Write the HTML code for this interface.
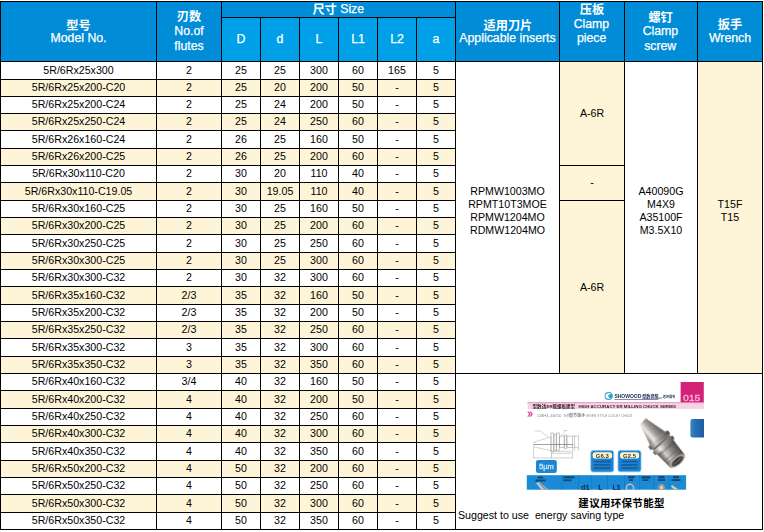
<!DOCTYPE html>
<html><head><meta charset="utf-8"><title>table</title>
<style>
html,body{margin:0;padding:0;background:#fff;}
body{width:764px;height:532px;position:relative;overflow:hidden;font-family:"Liberation Sans","Noto Sans CJK SC",sans-serif;}
svg.bg{position:absolute;left:0;top:0;}
.t{position:absolute;height:20px;line-height:20px;text-align:center;white-space:nowrap;}
</style></head><body>
<svg class="bg" width="764" height="532" viewBox="0 0 764 532" font-family="Liberation Sans, Noto Sans CJK SC, sans-serif">
<rect x="0.00" y="1.00" width="221.00" height="60.00" fill="#008cd6"/>
<rect x="221.00" y="1.00" width="234.00" height="16.00" fill="#008cd6"/>
<rect x="221.00" y="17.00" width="234.00" height="44.00" fill="#00a0e9"/>
<rect x="455.00" y="1.00" width="307.00" height="60.00" fill="#008cd6"/>
<rect x="0.00" y="79.00" width="455.00" height="17.00" fill="#fef4d7"/>
<rect x="0.00" y="113.00" width="455.00" height="17.00" fill="#fef4d7"/>
<rect x="0.00" y="148.00" width="455.00" height="17.00" fill="#fef4d7"/>
<rect x="0.00" y="182.00" width="455.00" height="18.00" fill="#fef4d7"/>
<rect x="0.00" y="217.00" width="455.00" height="17.00" fill="#fef4d7"/>
<rect x="0.00" y="252.00" width="455.00" height="17.00" fill="#fef4d7"/>
<rect x="0.00" y="286.00" width="455.00" height="18.00" fill="#fef4d7"/>
<rect x="0.00" y="321.00" width="455.00" height="17.00" fill="#fef4d7"/>
<rect x="0.00" y="356.00" width="455.00" height="17.00" fill="#fef4d7"/>
<rect x="0.00" y="390.00" width="455.00" height="18.00" fill="#fef4d7"/>
<rect x="0.00" y="425.00" width="455.00" height="17.00" fill="#fef4d7"/>
<rect x="0.00" y="460.00" width="455.00" height="17.00" fill="#fef4d7"/>
<rect x="0.00" y="494.00" width="455.00" height="18.00" fill="#fef4d7"/>
<rect x="559.00" y="61.00" width="65.00" height="312.00" fill="#fef4d7"/>
<rect x="697.00" y="61.00" width="65.00" height="312.00" fill="#fef4d7"/>
<rect x="0.00" y="1.00" width="763.00" height="1.00" fill="#000"/>
<rect x="221.00" y="17.00" width="234.00" height="1.00" fill="#000"/>
<rect x="0.00" y="61.00" width="763.00" height="1.00" fill="#000"/>
<rect x="0.00" y="79.00" width="455.00" height="1.00" fill="#000"/>
<rect x="0.00" y="96.00" width="455.00" height="1.00" fill="#000"/>
<rect x="0.00" y="113.00" width="455.00" height="1.00" fill="#000"/>
<rect x="0.00" y="130.00" width="455.00" height="1.00" fill="#000"/>
<rect x="0.00" y="148.00" width="455.00" height="1.00" fill="#000"/>
<rect x="0.00" y="165.00" width="455.00" height="1.00" fill="#000"/>
<rect x="0.00" y="182.00" width="455.00" height="1.00" fill="#000"/>
<rect x="0.00" y="200.00" width="455.00" height="1.00" fill="#000"/>
<rect x="0.00" y="217.00" width="455.00" height="1.00" fill="#000"/>
<rect x="0.00" y="234.00" width="455.00" height="1.00" fill="#000"/>
<rect x="0.00" y="252.00" width="455.00" height="1.00" fill="#000"/>
<rect x="0.00" y="269.00" width="455.00" height="1.00" fill="#000"/>
<rect x="0.00" y="286.00" width="455.00" height="1.00" fill="#000"/>
<rect x="0.00" y="304.00" width="455.00" height="1.00" fill="#000"/>
<rect x="0.00" y="321.00" width="455.00" height="1.00" fill="#000"/>
<rect x="0.00" y="338.00" width="455.00" height="1.00" fill="#000"/>
<rect x="0.00" y="356.00" width="455.00" height="1.00" fill="#000"/>
<rect x="0.00" y="373.00" width="763.00" height="1.00" fill="#000"/>
<rect x="0.00" y="390.00" width="455.00" height="1.00" fill="#000"/>
<rect x="0.00" y="408.00" width="455.00" height="1.00" fill="#000"/>
<rect x="0.00" y="425.00" width="455.00" height="1.00" fill="#000"/>
<rect x="0.00" y="442.00" width="455.00" height="1.00" fill="#000"/>
<rect x="0.00" y="460.00" width="455.00" height="1.00" fill="#000"/>
<rect x="0.00" y="477.00" width="455.00" height="1.00" fill="#000"/>
<rect x="0.00" y="494.00" width="455.00" height="1.00" fill="#000"/>
<rect x="0.00" y="512.00" width="455.00" height="1.00" fill="#000"/>
<rect x="0.00" y="529.00" width="763.00" height="1.00" fill="#000"/>
<rect x="559.00" y="165.00" width="65.00" height="1.00" fill="#000"/>
<rect x="559.00" y="200.00" width="65.00" height="1.00" fill="#000"/>
<rect x="0.00" y="1.00" width="1.00" height="529.00" fill="#000"/>
<rect x="156.00" y="1.00" width="1.00" height="529.00" fill="#000"/>
<rect x="221.00" y="1.00" width="1.00" height="529.00" fill="#000"/>
<rect x="260.00" y="17.00" width="1.00" height="513.00" fill="#000"/>
<rect x="299.00" y="17.00" width="1.00" height="513.00" fill="#000"/>
<rect x="338.00" y="17.00" width="1.00" height="513.00" fill="#000"/>
<rect x="377.00" y="17.00" width="1.00" height="513.00" fill="#000"/>
<rect x="416.00" y="17.00" width="1.00" height="513.00" fill="#000"/>
<rect x="455.00" y="1.00" width="1.00" height="529.00" fill="#000"/>
<rect x="559.00" y="1.00" width="1.00" height="372.00" fill="#000"/>
<rect x="624.00" y="1.00" width="1.00" height="372.00" fill="#000"/>
<rect x="697.00" y="1.00" width="1.00" height="372.00" fill="#000"/>
<rect x="762.00" y="1.00" width="1.00" height="529.00" fill="#000"/>
<text x="78.50" y="74" font-size="10.65" fill="#000" text-anchor="middle">5R/6Rx25x300</text>
<text x="189.00" y="74" font-size="10.65" fill="#000" text-anchor="middle">2</text>
<text x="241.00" y="74" font-size="10.65" fill="#000" text-anchor="middle">25</text>
<text x="280.00" y="74" font-size="10.65" fill="#000" text-anchor="middle">25</text>
<text x="319.00" y="74" font-size="10.65" fill="#000" text-anchor="middle">300</text>
<text x="358.00" y="74" font-size="10.65" fill="#000" text-anchor="middle">60</text>
<text x="397.00" y="74" font-size="10.65" fill="#000" text-anchor="middle">165</text>
<text x="436.00" y="74" font-size="10.65" fill="#000" text-anchor="middle">5</text>
<text x="78.50" y="91" font-size="10.65" fill="#000" text-anchor="middle">5R/6Rx25x200-C20</text>
<text x="189.00" y="91" font-size="10.65" fill="#000" text-anchor="middle">2</text>
<text x="241.00" y="91" font-size="10.65" fill="#000" text-anchor="middle">25</text>
<text x="280.00" y="91" font-size="10.65" fill="#000" text-anchor="middle">20</text>
<text x="319.00" y="91" font-size="10.65" fill="#000" text-anchor="middle">200</text>
<text x="358.00" y="91" font-size="10.65" fill="#000" text-anchor="middle">50</text>
<text x="397.00" y="91" font-size="10.65" fill="#000" text-anchor="middle">-</text>
<text x="436.00" y="91" font-size="10.65" fill="#000" text-anchor="middle">5</text>
<text x="78.50" y="108" font-size="10.65" fill="#000" text-anchor="middle">5R/6Rx25x200-C24</text>
<text x="189.00" y="108" font-size="10.65" fill="#000" text-anchor="middle">2</text>
<text x="241.00" y="108" font-size="10.65" fill="#000" text-anchor="middle">25</text>
<text x="280.00" y="108" font-size="10.65" fill="#000" text-anchor="middle">24</text>
<text x="319.00" y="108" font-size="10.65" fill="#000" text-anchor="middle">200</text>
<text x="358.00" y="108" font-size="10.65" fill="#000" text-anchor="middle">50</text>
<text x="397.00" y="108" font-size="10.65" fill="#000" text-anchor="middle">-</text>
<text x="436.00" y="108" font-size="10.65" fill="#000" text-anchor="middle">5</text>
<text x="78.50" y="125" font-size="10.65" fill="#000" text-anchor="middle">5R/6Rx25x250-C24</text>
<text x="189.00" y="125" font-size="10.65" fill="#000" text-anchor="middle">2</text>
<text x="241.00" y="125" font-size="10.65" fill="#000" text-anchor="middle">25</text>
<text x="280.00" y="125" font-size="10.65" fill="#000" text-anchor="middle">24</text>
<text x="319.00" y="125" font-size="10.65" fill="#000" text-anchor="middle">250</text>
<text x="358.00" y="125" font-size="10.65" fill="#000" text-anchor="middle">60</text>
<text x="397.00" y="125" font-size="10.65" fill="#000" text-anchor="middle">-</text>
<text x="436.00" y="125" font-size="10.65" fill="#000" text-anchor="middle">5</text>
<text x="78.50" y="143" font-size="10.65" fill="#000" text-anchor="middle">5R/6Rx26x160-C24</text>
<text x="189.00" y="143" font-size="10.65" fill="#000" text-anchor="middle">2</text>
<text x="241.00" y="143" font-size="10.65" fill="#000" text-anchor="middle">26</text>
<text x="280.00" y="143" font-size="10.65" fill="#000" text-anchor="middle">25</text>
<text x="319.00" y="143" font-size="10.65" fill="#000" text-anchor="middle">160</text>
<text x="358.00" y="143" font-size="10.65" fill="#000" text-anchor="middle">50</text>
<text x="397.00" y="143" font-size="10.65" fill="#000" text-anchor="middle">-</text>
<text x="436.00" y="143" font-size="10.65" fill="#000" text-anchor="middle">5</text>
<text x="78.50" y="160" font-size="10.65" fill="#000" text-anchor="middle">5R/6Rx26x200-C25</text>
<text x="189.00" y="160" font-size="10.65" fill="#000" text-anchor="middle">2</text>
<text x="241.00" y="160" font-size="10.65" fill="#000" text-anchor="middle">26</text>
<text x="280.00" y="160" font-size="10.65" fill="#000" text-anchor="middle">25</text>
<text x="319.00" y="160" font-size="10.65" fill="#000" text-anchor="middle">200</text>
<text x="358.00" y="160" font-size="10.65" fill="#000" text-anchor="middle">60</text>
<text x="397.00" y="160" font-size="10.65" fill="#000" text-anchor="middle">-</text>
<text x="436.00" y="160" font-size="10.65" fill="#000" text-anchor="middle">5</text>
<text x="78.50" y="177" font-size="10.65" fill="#000" text-anchor="middle">5R/6Rx30x110-C20</text>
<text x="189.00" y="177" font-size="10.65" fill="#000" text-anchor="middle">2</text>
<text x="241.00" y="177" font-size="10.65" fill="#000" text-anchor="middle">30</text>
<text x="280.00" y="177" font-size="10.65" fill="#000" text-anchor="middle">20</text>
<text x="319.00" y="177" font-size="10.65" fill="#000" text-anchor="middle">110</text>
<text x="358.00" y="177" font-size="10.65" fill="#000" text-anchor="middle">40</text>
<text x="397.00" y="177" font-size="10.65" fill="#000" text-anchor="middle">-</text>
<text x="436.00" y="177" font-size="10.65" fill="#000" text-anchor="middle">5</text>
<text x="78.50" y="195" font-size="10.65" fill="#000" text-anchor="middle">5R/6Rx30x110-C19.05</text>
<text x="189.00" y="195" font-size="10.65" fill="#000" text-anchor="middle">2</text>
<text x="241.00" y="195" font-size="10.65" fill="#000" text-anchor="middle">30</text>
<text x="280.00" y="195" font-size="10.65" fill="#000" text-anchor="middle">19.05</text>
<text x="319.00" y="195" font-size="10.65" fill="#000" text-anchor="middle">110</text>
<text x="358.00" y="195" font-size="10.65" fill="#000" text-anchor="middle">40</text>
<text x="397.00" y="195" font-size="10.65" fill="#000" text-anchor="middle">-</text>
<text x="436.00" y="195" font-size="10.65" fill="#000" text-anchor="middle">5</text>
<text x="78.50" y="212" font-size="10.65" fill="#000" text-anchor="middle">5R/6Rx30x160-C25</text>
<text x="189.00" y="212" font-size="10.65" fill="#000" text-anchor="middle">2</text>
<text x="241.00" y="212" font-size="10.65" fill="#000" text-anchor="middle">30</text>
<text x="280.00" y="212" font-size="10.65" fill="#000" text-anchor="middle">25</text>
<text x="319.00" y="212" font-size="10.65" fill="#000" text-anchor="middle">160</text>
<text x="358.00" y="212" font-size="10.65" fill="#000" text-anchor="middle">50</text>
<text x="397.00" y="212" font-size="10.65" fill="#000" text-anchor="middle">-</text>
<text x="436.00" y="212" font-size="10.65" fill="#000" text-anchor="middle">5</text>
<text x="78.50" y="229" font-size="10.65" fill="#000" text-anchor="middle">5R/6Rx30x200-C25</text>
<text x="189.00" y="229" font-size="10.65" fill="#000" text-anchor="middle">2</text>
<text x="241.00" y="229" font-size="10.65" fill="#000" text-anchor="middle">30</text>
<text x="280.00" y="229" font-size="10.65" fill="#000" text-anchor="middle">25</text>
<text x="319.00" y="229" font-size="10.65" fill="#000" text-anchor="middle">200</text>
<text x="358.00" y="229" font-size="10.65" fill="#000" text-anchor="middle">60</text>
<text x="397.00" y="229" font-size="10.65" fill="#000" text-anchor="middle">-</text>
<text x="436.00" y="229" font-size="10.65" fill="#000" text-anchor="middle">5</text>
<text x="78.50" y="247" font-size="10.65" fill="#000" text-anchor="middle">5R/6Rx30x250-C25</text>
<text x="189.00" y="247" font-size="10.65" fill="#000" text-anchor="middle">2</text>
<text x="241.00" y="247" font-size="10.65" fill="#000" text-anchor="middle">30</text>
<text x="280.00" y="247" font-size="10.65" fill="#000" text-anchor="middle">25</text>
<text x="319.00" y="247" font-size="10.65" fill="#000" text-anchor="middle">250</text>
<text x="358.00" y="247" font-size="10.65" fill="#000" text-anchor="middle">60</text>
<text x="397.00" y="247" font-size="10.65" fill="#000" text-anchor="middle">-</text>
<text x="436.00" y="247" font-size="10.65" fill="#000" text-anchor="middle">5</text>
<text x="78.50" y="264" font-size="10.65" fill="#000" text-anchor="middle">5R/6Rx30x300-C25</text>
<text x="189.00" y="264" font-size="10.65" fill="#000" text-anchor="middle">2</text>
<text x="241.00" y="264" font-size="10.65" fill="#000" text-anchor="middle">30</text>
<text x="280.00" y="264" font-size="10.65" fill="#000" text-anchor="middle">25</text>
<text x="319.00" y="264" font-size="10.65" fill="#000" text-anchor="middle">300</text>
<text x="358.00" y="264" font-size="10.65" fill="#000" text-anchor="middle">60</text>
<text x="397.00" y="264" font-size="10.65" fill="#000" text-anchor="middle">-</text>
<text x="436.00" y="264" font-size="10.65" fill="#000" text-anchor="middle">5</text>
<text x="78.50" y="281" font-size="10.65" fill="#000" text-anchor="middle">5R/6Rx30x300-C32</text>
<text x="189.00" y="281" font-size="10.65" fill="#000" text-anchor="middle">2</text>
<text x="241.00" y="281" font-size="10.65" fill="#000" text-anchor="middle">30</text>
<text x="280.00" y="281" font-size="10.65" fill="#000" text-anchor="middle">32</text>
<text x="319.00" y="281" font-size="10.65" fill="#000" text-anchor="middle">300</text>
<text x="358.00" y="281" font-size="10.65" fill="#000" text-anchor="middle">60</text>
<text x="397.00" y="281" font-size="10.65" fill="#000" text-anchor="middle">-</text>
<text x="436.00" y="281" font-size="10.65" fill="#000" text-anchor="middle">5</text>
<text x="78.50" y="299" font-size="10.65" fill="#000" text-anchor="middle">5R/6Rx35x160-C32</text>
<text x="189.00" y="299" font-size="10.65" fill="#000" text-anchor="middle">2/3</text>
<text x="241.00" y="299" font-size="10.65" fill="#000" text-anchor="middle">35</text>
<text x="280.00" y="299" font-size="10.65" fill="#000" text-anchor="middle">32</text>
<text x="319.00" y="299" font-size="10.65" fill="#000" text-anchor="middle">160</text>
<text x="358.00" y="299" font-size="10.65" fill="#000" text-anchor="middle">50</text>
<text x="397.00" y="299" font-size="10.65" fill="#000" text-anchor="middle">-</text>
<text x="436.00" y="299" font-size="10.65" fill="#000" text-anchor="middle">5</text>
<text x="78.50" y="316" font-size="10.65" fill="#000" text-anchor="middle">5R/6Rx35x200-C32</text>
<text x="189.00" y="316" font-size="10.65" fill="#000" text-anchor="middle">2/3</text>
<text x="241.00" y="316" font-size="10.65" fill="#000" text-anchor="middle">35</text>
<text x="280.00" y="316" font-size="10.65" fill="#000" text-anchor="middle">32</text>
<text x="319.00" y="316" font-size="10.65" fill="#000" text-anchor="middle">200</text>
<text x="358.00" y="316" font-size="10.65" fill="#000" text-anchor="middle">50</text>
<text x="397.00" y="316" font-size="10.65" fill="#000" text-anchor="middle">-</text>
<text x="436.00" y="316" font-size="10.65" fill="#000" text-anchor="middle">5</text>
<text x="78.50" y="333" font-size="10.65" fill="#000" text-anchor="middle">5R/6Rx35x250-C32</text>
<text x="189.00" y="333" font-size="10.65" fill="#000" text-anchor="middle">2/3</text>
<text x="241.00" y="333" font-size="10.65" fill="#000" text-anchor="middle">35</text>
<text x="280.00" y="333" font-size="10.65" fill="#000" text-anchor="middle">32</text>
<text x="319.00" y="333" font-size="10.65" fill="#000" text-anchor="middle">250</text>
<text x="358.00" y="333" font-size="10.65" fill="#000" text-anchor="middle">60</text>
<text x="397.00" y="333" font-size="10.65" fill="#000" text-anchor="middle">-</text>
<text x="436.00" y="333" font-size="10.65" fill="#000" text-anchor="middle">5</text>
<text x="78.50" y="351" font-size="10.65" fill="#000" text-anchor="middle">5R/6Rx35x300-C32</text>
<text x="189.00" y="351" font-size="10.65" fill="#000" text-anchor="middle">3</text>
<text x="241.00" y="351" font-size="10.65" fill="#000" text-anchor="middle">35</text>
<text x="280.00" y="351" font-size="10.65" fill="#000" text-anchor="middle">32</text>
<text x="319.00" y="351" font-size="10.65" fill="#000" text-anchor="middle">300</text>
<text x="358.00" y="351" font-size="10.65" fill="#000" text-anchor="middle">60</text>
<text x="397.00" y="351" font-size="10.65" fill="#000" text-anchor="middle">-</text>
<text x="436.00" y="351" font-size="10.65" fill="#000" text-anchor="middle">5</text>
<text x="78.50" y="368" font-size="10.65" fill="#000" text-anchor="middle">5R/6Rx35x350-C32</text>
<text x="189.00" y="368" font-size="10.65" fill="#000" text-anchor="middle">3</text>
<text x="241.00" y="368" font-size="10.65" fill="#000" text-anchor="middle">35</text>
<text x="280.00" y="368" font-size="10.65" fill="#000" text-anchor="middle">32</text>
<text x="319.00" y="368" font-size="10.65" fill="#000" text-anchor="middle">350</text>
<text x="358.00" y="368" font-size="10.65" fill="#000" text-anchor="middle">60</text>
<text x="397.00" y="368" font-size="10.65" fill="#000" text-anchor="middle">-</text>
<text x="436.00" y="368" font-size="10.65" fill="#000" text-anchor="middle">5</text>
<text x="78.50" y="385" font-size="10.65" fill="#000" text-anchor="middle">5R/6Rx40x160-C32</text>
<text x="189.00" y="385" font-size="10.65" fill="#000" text-anchor="middle">3/4</text>
<text x="241.00" y="385" font-size="10.65" fill="#000" text-anchor="middle">40</text>
<text x="280.00" y="385" font-size="10.65" fill="#000" text-anchor="middle">32</text>
<text x="319.00" y="385" font-size="10.65" fill="#000" text-anchor="middle">160</text>
<text x="358.00" y="385" font-size="10.65" fill="#000" text-anchor="middle">50</text>
<text x="397.00" y="385" font-size="10.65" fill="#000" text-anchor="middle">-</text>
<text x="436.00" y="385" font-size="10.65" fill="#000" text-anchor="middle">5</text>
<text x="78.50" y="403" font-size="10.65" fill="#000" text-anchor="middle">5R/6Rx40x200-C32</text>
<text x="189.00" y="403" font-size="10.65" fill="#000" text-anchor="middle">4</text>
<text x="241.00" y="403" font-size="10.65" fill="#000" text-anchor="middle">40</text>
<text x="280.00" y="403" font-size="10.65" fill="#000" text-anchor="middle">32</text>
<text x="319.00" y="403" font-size="10.65" fill="#000" text-anchor="middle">200</text>
<text x="358.00" y="403" font-size="10.65" fill="#000" text-anchor="middle">50</text>
<text x="397.00" y="403" font-size="10.65" fill="#000" text-anchor="middle">-</text>
<text x="436.00" y="403" font-size="10.65" fill="#000" text-anchor="middle">5</text>
<text x="78.50" y="420" font-size="10.65" fill="#000" text-anchor="middle">5R/6Rx40x250-C32</text>
<text x="189.00" y="420" font-size="10.65" fill="#000" text-anchor="middle">4</text>
<text x="241.00" y="420" font-size="10.65" fill="#000" text-anchor="middle">40</text>
<text x="280.00" y="420" font-size="10.65" fill="#000" text-anchor="middle">32</text>
<text x="319.00" y="420" font-size="10.65" fill="#000" text-anchor="middle">250</text>
<text x="358.00" y="420" font-size="10.65" fill="#000" text-anchor="middle">60</text>
<text x="397.00" y="420" font-size="10.65" fill="#000" text-anchor="middle">-</text>
<text x="436.00" y="420" font-size="10.65" fill="#000" text-anchor="middle">5</text>
<text x="78.50" y="437" font-size="10.65" fill="#000" text-anchor="middle">5R/6Rx40x300-C32</text>
<text x="189.00" y="437" font-size="10.65" fill="#000" text-anchor="middle">4</text>
<text x="241.00" y="437" font-size="10.65" fill="#000" text-anchor="middle">40</text>
<text x="280.00" y="437" font-size="10.65" fill="#000" text-anchor="middle">32</text>
<text x="319.00" y="437" font-size="10.65" fill="#000" text-anchor="middle">300</text>
<text x="358.00" y="437" font-size="10.65" fill="#000" text-anchor="middle">60</text>
<text x="397.00" y="437" font-size="10.65" fill="#000" text-anchor="middle">-</text>
<text x="436.00" y="437" font-size="10.65" fill="#000" text-anchor="middle">5</text>
<text x="78.50" y="455" font-size="10.65" fill="#000" text-anchor="middle">5R/6Rx40x350-C32</text>
<text x="189.00" y="455" font-size="10.65" fill="#000" text-anchor="middle">4</text>
<text x="241.00" y="455" font-size="10.65" fill="#000" text-anchor="middle">40</text>
<text x="280.00" y="455" font-size="10.65" fill="#000" text-anchor="middle">32</text>
<text x="319.00" y="455" font-size="10.65" fill="#000" text-anchor="middle">350</text>
<text x="358.00" y="455" font-size="10.65" fill="#000" text-anchor="middle">60</text>
<text x="397.00" y="455" font-size="10.65" fill="#000" text-anchor="middle">-</text>
<text x="436.00" y="455" font-size="10.65" fill="#000" text-anchor="middle">5</text>
<text x="78.50" y="472" font-size="10.65" fill="#000" text-anchor="middle">5R/6Rx50x200-C32</text>
<text x="189.00" y="472" font-size="10.65" fill="#000" text-anchor="middle">4</text>
<text x="241.00" y="472" font-size="10.65" fill="#000" text-anchor="middle">50</text>
<text x="280.00" y="472" font-size="10.65" fill="#000" text-anchor="middle">32</text>
<text x="319.00" y="472" font-size="10.65" fill="#000" text-anchor="middle">200</text>
<text x="358.00" y="472" font-size="10.65" fill="#000" text-anchor="middle">60</text>
<text x="397.00" y="472" font-size="10.65" fill="#000" text-anchor="middle">-</text>
<text x="436.00" y="472" font-size="10.65" fill="#000" text-anchor="middle">5</text>
<text x="78.50" y="489" font-size="10.65" fill="#000" text-anchor="middle">5R/6Rx50x250-C32</text>
<text x="189.00" y="489" font-size="10.65" fill="#000" text-anchor="middle">4</text>
<text x="241.00" y="489" font-size="10.65" fill="#000" text-anchor="middle">50</text>
<text x="280.00" y="489" font-size="10.65" fill="#000" text-anchor="middle">32</text>
<text x="319.00" y="489" font-size="10.65" fill="#000" text-anchor="middle">250</text>
<text x="358.00" y="489" font-size="10.65" fill="#000" text-anchor="middle">60</text>
<text x="397.00" y="489" font-size="10.65" fill="#000" text-anchor="middle">-</text>
<text x="436.00" y="489" font-size="10.65" fill="#000" text-anchor="middle">5</text>
<text x="78.50" y="507" font-size="10.65" fill="#000" text-anchor="middle">5R/6Rx50x300-C32</text>
<text x="189.00" y="507" font-size="10.65" fill="#000" text-anchor="middle">4</text>
<text x="241.00" y="507" font-size="10.65" fill="#000" text-anchor="middle">50</text>
<text x="280.00" y="507" font-size="10.65" fill="#000" text-anchor="middle">32</text>
<text x="319.00" y="507" font-size="10.65" fill="#000" text-anchor="middle">300</text>
<text x="358.00" y="507" font-size="10.65" fill="#000" text-anchor="middle">60</text>
<text x="397.00" y="507" font-size="10.65" fill="#000" text-anchor="middle">-</text>
<text x="436.00" y="507" font-size="10.65" fill="#000" text-anchor="middle">5</text>
<text x="78.50" y="524" font-size="10.65" fill="#000" text-anchor="middle">5R/6Rx50x350-C32</text>
<text x="189.00" y="524" font-size="10.65" fill="#000" text-anchor="middle">4</text>
<text x="241.00" y="524" font-size="10.65" fill="#000" text-anchor="middle">50</text>
<text x="280.00" y="524" font-size="10.65" fill="#000" text-anchor="middle">32</text>
<text x="319.00" y="524" font-size="10.65" fill="#000" text-anchor="middle">350</text>
<text x="358.00" y="524" font-size="10.65" fill="#000" text-anchor="middle">60</text>
<text x="397.00" y="524" font-size="10.65" fill="#000" text-anchor="middle">-</text>
<text x="436.00" y="524" font-size="10.65" fill="#000" text-anchor="middle">5</text>
<text x="78.50" y="29.5" font-size="12.2" font-weight="bold" fill="#fff" text-anchor="middle">型号</text>
<text x="78.50" y="42" font-size="12.3" fill="#fff" text-anchor="middle" stroke="#fff" stroke-width="0.25">Model No.</text>
<text x="189.00" y="21.3" font-size="12.2" font-weight="bold" fill="#fff" text-anchor="middle">刃数</text>
<text x="189.00" y="35" font-size="12.3" fill="#fff" text-anchor="middle" stroke="#fff" stroke-width="0.25">No.of</text>
<text x="189.00" y="50" font-size="12.3" fill="#fff" text-anchor="middle" stroke="#fff" stroke-width="0.25">flutes</text>
<text x="312.40" y="14.2" font-size="12.2" font-weight="bold" fill="#fff" text-anchor="start">尺寸</text>
<text x="340.20" y="13" font-size="12.3" fill="#fff" text-anchor="start" stroke="#fff" stroke-width="0.25">Size</text>
<text x="241.00" y="43" font-size="12.3" fill="#fff" text-anchor="middle" stroke="#fff" stroke-width="0.25">D</text>
<text x="280.00" y="43" font-size="12.3" fill="#fff" text-anchor="middle" stroke="#fff" stroke-width="0.25">d</text>
<text x="319.00" y="43" font-size="12.3" fill="#fff" text-anchor="middle" stroke="#fff" stroke-width="0.25">L</text>
<text x="358.00" y="43" font-size="12.3" fill="#fff" text-anchor="middle" stroke="#fff" stroke-width="0.25">L1</text>
<text x="397.00" y="43" font-size="12.3" fill="#fff" text-anchor="middle" stroke="#fff" stroke-width="0.25">L2</text>
<text x="436.00" y="43" font-size="12.3" fill="#fff" text-anchor="middle" stroke="#fff" stroke-width="0.25">a</text>
<text x="507.90" y="29.9" font-size="12.2" font-weight="bold" fill="#fff" text-anchor="middle">适用刀片</text>
<text x="507.50" y="42" font-size="12.3" fill="#fff" text-anchor="middle" stroke="#fff" stroke-width="0.25">Applicable inserts</text>
<text x="592.00" y="14.3" font-size="12.2" font-weight="bold" fill="#fff" text-anchor="middle">压板</text>
<text x="591.40" y="28" font-size="12.3" fill="#fff" text-anchor="middle" stroke="#fff" stroke-width="0.25">Clamp</text>
<text x="591.60" y="42" font-size="12.3" fill="#fff" text-anchor="middle" stroke="#fff" stroke-width="0.25">piece</text>
<text x="660.60" y="21.6" font-size="12.2" font-weight="bold" fill="#fff" text-anchor="middle">螺钉</text>
<text x="660.40" y="35" font-size="12.3" fill="#fff" text-anchor="middle" stroke="#fff" stroke-width="0.25">Clamp</text>
<text x="660.20" y="50" font-size="12.3" fill="#fff" text-anchor="middle" stroke="#fff" stroke-width="0.25">screw</text>
<text x="730.00" y="29.4" font-size="12.2" font-weight="bold" fill="#fff" text-anchor="middle">扳手</text>
<text x="730.00" y="42" font-size="12.3" fill="#fff" text-anchor="middle" stroke="#fff" stroke-width="0.25">Wrench</text>
<text x="592.00" y="117" font-size="10.65" fill="#000" text-anchor="middle">A-6R</text>
<text x="592.00" y="186" font-size="10.65" fill="#000" text-anchor="middle">-</text>
<text x="592.00" y="291" font-size="10.65" fill="#000" text-anchor="middle">A-6R</text>
<text x="507.50" y="195" font-size="10.65" fill="#000" text-anchor="middle">RPMW1003MO</text>
<text x="507.50" y="208" font-size="10.65" fill="#000" text-anchor="middle">RPMT10T3MOE</text>
<text x="507.50" y="221" font-size="10.65" fill="#000" text-anchor="middle">RPMW1204MO</text>
<text x="507.50" y="234" font-size="10.65" fill="#000" text-anchor="middle">RDMW1204MO</text>
<text x="661.00" y="195" font-size="10.65" fill="#000" text-anchor="middle">A40090G</text>
<text x="661.00" y="208" font-size="10.65" fill="#000" text-anchor="middle">M4X9</text>
<text x="661.00" y="221" font-size="10.65" fill="#000" text-anchor="middle">A35100F</text>
<text x="661.00" y="234" font-size="10.65" fill="#000" text-anchor="middle">M3.5X10</text>
<text x="730.00" y="208" font-size="10.65" fill="#000" text-anchor="middle">T15F</text>
<text x="730.00" y="221" font-size="10.65" fill="#000" text-anchor="middle">T15</text>
<text x="578.35" y="507" font-size="10.5" font-weight="bold" fill="#000" text-anchor="start" letter-spacing="0.3">建议用环保节能型</text>
<text x="458.00" y="519" font-size="10.65" fill="#000" text-anchor="start">Suggest to use&#160; energy saving type</text>
<defs>
<filter id="bl" x="-5%" y="-5%" width="110%" height="110%"><feGaussianBlur stdDeviation="0.6"/></filter>
<filter id="bl2" x="-5%" y="-5%" width="110%" height="110%"><feGaussianBlur stdDeviation="0.3"/></filter>
<linearGradient id="tab" x1="0" y1="0" x2="1" y2="0"><stop offset="0" stop-color="#3b84c8"/><stop offset="0.35" stop-color="#2a6fb6"/><stop offset="1" stop-color="#1d5ca4"/></linearGradient>
<linearGradient id="met" x1="0" y1="0" x2="1" y2="0"><stop offset="0" stop-color="#5e5a58"/><stop offset="0.3" stop-color="#efedeb"/><stop offset="0.55" stop-color="#a19d9a"/><stop offset="1" stop-color="#555150"/></linearGradient>
<linearGradient id="met2" x1="0" y1="0" x2="1" y2="0"><stop offset="0" stop-color="#524e4c"/><stop offset="0.3" stop-color="#d2cfcc"/><stop offset="0.6" stop-color="#8f8b88"/><stop offset="1" stop-color="#4a4644"/></linearGradient>
</defs>
<g filter="url(#bl)">
<!-- magenta tab -->
<rect x="680.6" y="382" width="23.2" height="20.8" fill="#d4237a"/>
<text x="683" y="401.2" font-size="9.6" fill="#f4b8d8" stroke="#f4b8d8" stroke-width="0.3" textLength="17.4" lengthAdjust="spacingAndGlyphs">015</text>
<!-- pink band -->
<rect x="527.5" y="402.6" width="176.5" height="6.4" fill="#f7d2e4"/>
<rect x="527.5" y="402.3" width="176.5" height="0.8" fill="#e57fb2"/>
<text x="532.4" y="408.35" font-size="4.6" font-weight="bold" fill="#2e282c" textLength="14.1" lengthAdjust="spacingAndGlyphs">型数适</text><text x="546.6" y="408.1" font-size="4.3" font-weight="bold" fill="#2e282c">ER</text><text x="552.6" y="408.35" font-size="4.6" font-weight="bold" fill="#2e282c" textLength="22.5" lengthAdjust="spacingAndGlyphs">能螺板建型</text>
<text x="578.5" y="408.1" font-size="4.3" font-weight="bold" fill="#2e282c" textLength="97.5" lengthAdjust="spacingAndGlyphs">HIGH ACCURACY ER MILLING CHUCK SERIES</text>
<!-- line 2 -->
<path d="M527.600 411.800h1.200l1.600 2.400-1.600 2.400h-1.200l1.600-2.400zM529.800 411.800h1.200l1.600 2.400-1.600 2.400h-1.200l1.600-2.400z" fill="#e23c98" stroke="#e23c98" stroke-width="0.300"/>
<text x="537" y="417" font-size="4" fill="#858585" textLength="24.5" lengthAdjust="spacingAndGlyphs">CBH1-40/50</text><text x="564" y="417" font-size="4" fill="#858585">ER</text><text x="569" y="417" font-size="4.1" font-weight="bold" fill="#858585" textLength="16.4" lengthAdjust="spacingAndGlyphs">型节扳手</text><text x="586.5" y="417" font-size="4" fill="#858585" textLength="46" lengthAdjust="spacingAndGlyphs">ER/ER STYLE COLLET CHUCK</text>
<!-- logo -->
<circle cx="608.7" cy="396" r="4.1" fill="#2fa3c9"/>
<path d="M606.2 394.2c1.5-1.6 4-1.6 5.2-.2-1.6-.2-3 .6-3.2 2 .1 1.4 1.4 2.3 3 2-1.6 1.3-4 1.1-5.2-.5-.7-1-.6-2.400-.2-3.300z" fill="#fff"/>
<text x="614.4" y="398.3" font-size="5" font-weight="bold" fill="#1c2a55" textLength="27" lengthAdjust="spacingAndGlyphs">SHOWOOD</text>
<text x="642.2" y="397.9" font-size="4.2" font-weight="bold" fill="#1c2a55" textLength="16.4" lengthAdjust="spacingAndGlyphs">型数建能</text><rect x="658.6" y="397.7" width="3.6" height="0.6" fill="#1c2a55"/><text x="662.8" y="397.7" font-size="3.2" font-weight="bold" fill="#1c2a55" textLength="12.4" lengthAdjust="spacingAndGlyphs">适环保节</text>
<rect x="614.4" y="399" width="44" height="0.7" fill="#55607f"/>
<!-- blue tab right -->
<path d="M692.400 418.900H704V437.600H692.400a2 2 0 0 1 -2 -2V420.900a2 2 0 0 1 2 -2z" fill="url(#tab)"/>
<!-- bottom blue band -->
<rect x="526.8" y="475.2" width="159.3" height="14.5" fill="#1b8bd5"/>
<g fill="#1677bd"><rect x="561.7" y="475.2" width="0.7" height="14.5"/><rect x="578.2" y="475.2" width="0.7" height="14.5"/><rect x="591.4" y="475.2" width="0.7" height="14.5"/><rect x="607" y="475.2" width="0.7" height="14.5"/><rect x="624" y="475.2" width="0.7" height="14.5"/><rect x="639.2" y="475.2" width="0.7" height="14.5"/><rect x="653.6" y="475.2" width="0.7" height="14.5"/><rect x="668.7" y="475.2" width="0.7" height="14.5"/></g>
<g fill="#12365f" opacity="0.85">
<rect x="538" y="476.6" width="5" height="1.8"/><rect x="535.500" y="479.600" width="10" height="1.8"/>
<rect x="563.5" y="476.4" width="11" height="1.8"/><rect x="563.5" y="479.400" width="8" height="1.8"/>
<rect x="628" y="476.200" width="6.500" height="2"/><rect x="629" y="479.200" width="4" height="1.8"/>
<rect x="641.500" y="476.400" width="9" height="2"/><rect x="642.500" y="479.400" width="6" height="1.600"/>
<rect x="658.500" y="476.200" width="6" height="2"/><rect x="658" y="479.200" width="7" height="1.800"/>
<rect x="673" y="476.200" width="6" height="2"/><rect x="671.500" y="479.200" width="9" height="1.800"/>
</g>
<clipPath id="bc"><rect x="526" y="475" width="161" height="14.700"/></clipPath><g fill="#0b3262" font-size="7.600" clip-path="url(#bc)" stroke="#0b3262" stroke-width="0.400">
<text x="581.200" y="489.600">d1</text><text x="598.300" y="489.600">L</text><text x="612.400" y="489.600">L1</text>
</g>
<g clip-path="url(#bc)">
<!-- icons in band -->
<path d="M536 483l3.500-.8 9 7.500h-7z" fill="#c9ccd2"/>
<path d="M538.500 483.500l2-.3 7 6.500h-3z" fill="#8d96a6"/>
<circle cx="630" cy="487.800" r="3.600" fill="none" stroke="#b9bcc2" stroke-width="1.500"/>
<ellipse cx="661.500" cy="487.500" rx="3.300" ry="3.600" fill="#a59a90"/><ellipse cx="661.500" cy="487.800" rx="1.500" ry="2" fill="#d8d2cc"/>
<path d="M670.500 486l2-.8 6 4.400h-4.500z" fill="#d9cf9a"/>
</g>
<!-- 5um badge -->
<rect x="536" y="459.900" width="20.800" height="13.100" rx="2.200" fill="#1b86d2"/>
<text x="538.900" y="469" font-size="7.800" fill="#c4e4f8" stroke="#c4e4f8" stroke-width="0.35" textLength="15" lengthAdjust="spacingAndGlyphs">5µm</text>
<!-- G boxes -->
<rect x="590.800" y="450.600" width="22.900" height="21.400" rx="2.400" fill="#1b82cf" stroke="#7fc0ec" stroke-width="0.800"/>
<rect x="592.600" y="452.300" width="19.500" height="6.300" rx="2.600" fill="#fff4cf"/>
<text x="595.800" y="457.900" font-size="5.800" font-weight="bold" fill="#3a3426" textLength="13" lengthAdjust="spacingAndGlyphs">G6.3</text>
<g fill="#135d9e"><rect x="594" y="460.700" width="16.500" height="1.700"/><rect x="594" y="464" width="16.500" height="1.700"/><rect x="594" y="467.300" width="16.500" height="1.700"/></g>
<rect x="618" y="450.400" width="23" height="21.400" rx="2.400" fill="#1b82cf" stroke="#7fc0ec" stroke-width="0.800"/>
<rect x="620.100" y="452.200" width="19" height="6.400" rx="2.600" fill="#fff4cf"/>
<text x="623" y="457.900" font-size="5.800" font-weight="bold" fill="#3a3426" textLength="13" lengthAdjust="spacingAndGlyphs">G2.5</text>
<g fill="#135d9e"><rect x="621.500" y="460.700" width="16" height="1.700"/><rect x="621.500" y="464" width="16" height="1.700"/><rect x="621.500" y="467.300" width="16" height="1.700"/></g>
</g>
<!-- technical drawing -->
<g filter="url(#bl2)" fill="none" stroke="#8f8f8f" stroke-width="0.5">
<path d="M533.800 442.200L551 436.800V450.700L533.800 446.800z" stroke="#a8a8a8"/>
<path d="M551 433h2.800v19H551zM553.800 434.500h2.600v16h-2.600zM556.400 433h3v18h-3zM559.400 436.200h5v11.200h-5zM564.400 435h2.400v13.500h-2.400zM566.800 436.200h5.800v11.200h-5.800z"/>
<path d="M533.800 444.500h39.500" stroke="#777" stroke-width="0.7"/>
<path d="M551.500 451.300h20M551.500 453.300h20M533.500 457.900h39.500M533.500 447v11M551.500 450v8M572.600 447.500v10.500" stroke="#a0a0a0"/>
<path d="M574.600 434.900v16M578.600 434.900v16M572.600 436.200h6M572.600 447.400h6" stroke="#a5a5a5"/>
<path d="M534.500 431h5.500l8.500 6.200M565.500 430.700l-4.600 5.300M563.500 430.500h3.500" stroke="#aaa"/>
</g>
<!-- tool holder -->
<g filter="url(#bl)" transform="translate(642.9,421.4) rotate(-41) scale(1.05)">
<path d="M-4 0.500L4 -0.500L9.600 21.700H-9.600z" fill="url(#met)"/>
<rect x="-12.200" y="21.500" width="24.400" height="4.600" rx="1.400" fill="url(#met2)"/>
<rect x="-10.500" y="26.100" width="21" height="2" fill="#64605e"/>
<rect x="-12.300" y="28" width="24.600" height="4.400" rx="1.400" fill="url(#met)"/>
<path d="M-10.300 32.400H10.300L9.200 50H-9.200z" fill="url(#met2)"/>
<g fill="#55514f" opacity="0.6"><rect x="-10.200" y="34" width="20.400" height="0.900"/><rect x="-10" y="41.500" width="20" height="0.900"/><rect x="-9.800" y="45" width="19.600" height="0.900"/></g>
<ellipse cx="0" cy="50" rx="9.200" ry="3.800" fill="#a29e9c"/>
<ellipse cx="0" cy="50.300" rx="6.600" ry="2.700" fill="#2f2d2c"/>
<rect x="-5" y="49.900" width="10" height="0.900" fill="#8a8684"/>
</g>

</svg>

</body></html>
